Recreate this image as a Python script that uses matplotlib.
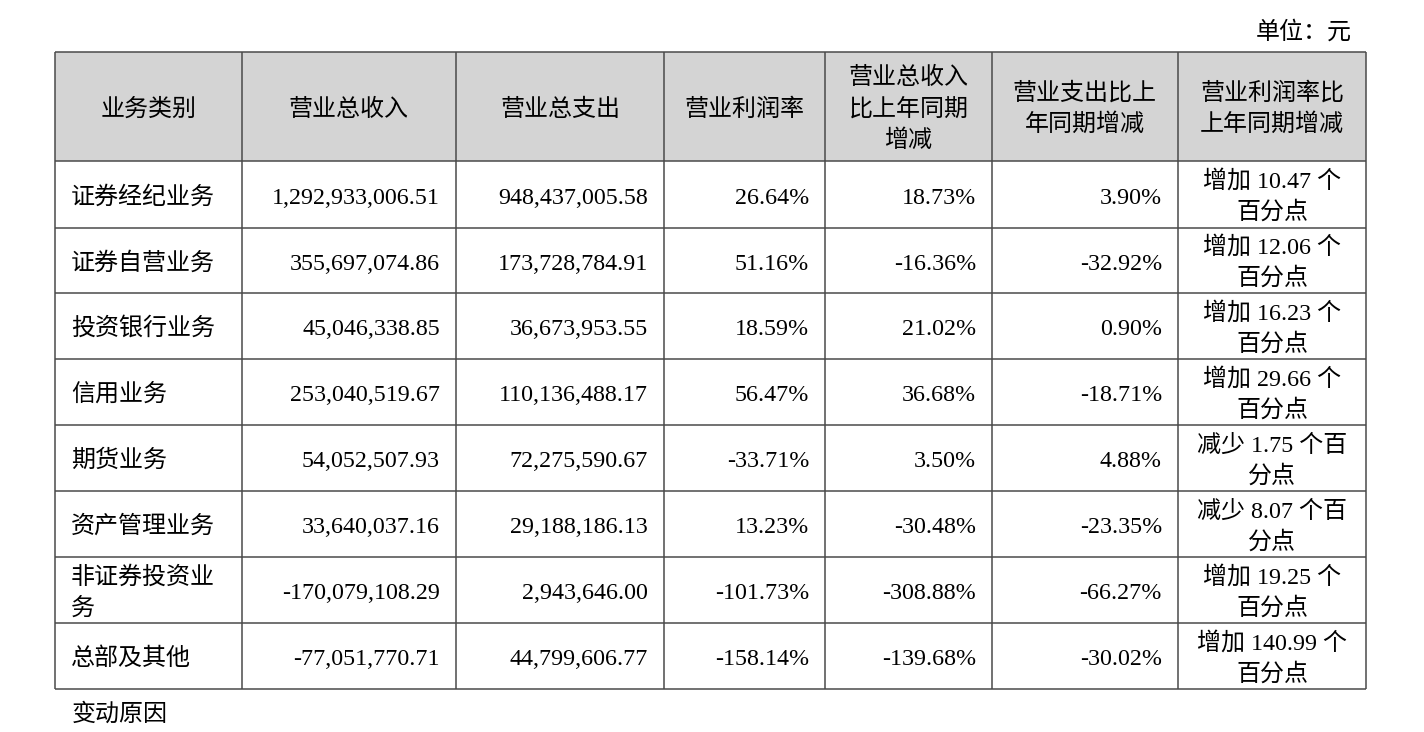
import matplotlib
matplotlib.use("Agg")
import matplotlib.pyplot as plt

plt.rcParams['font.family'] = ['Liberation Serif', 'Noto Sans CJK SC', 'DejaVu Sans']

# ---------- data ----------
headers = ['业务类别', '营业总收入', '营业总支出', '营业利润率',
           '营业总收入\n比上年同期\n增减', '营业支出比上\n年同期增减', '营业利润率比\n上年同期增减']
categories = ['证券经纪业务', '证券自营业务', '投资银行业务', '信用业务',
              '期货业务', '资产管理业务', '非证券投资业务', '总部及其他']
revenue = [1292933006.51, 355697074.86, 45046338.85, 253040519.67,
           54052507.93, 33640037.16, -170079108.29, -77051770.71]
expense = [948437005.58, 173728784.91, 36673953.55, 110136488.17,
           72275590.67, 29188186.13, 2943646.00, 44799606.77]
margin = [26.64, 51.16, 18.59, 56.47, -33.71, 13.23, -101.73, -158.14]
revenue_yoy = [18.73, -16.36, 21.02, 36.68, 3.50, -30.48, -308.88, -139.68]
expense_yoy = [3.90, -32.92, 0.90, -18.71, 4.88, -23.35, -66.27, -30.02]
margin_change = [10.47, 12.06, 16.23, 29.66, -1.75, -8.07, 19.25, 140.99]
unit_label = '单位：元'
footer_label = '变动原因'

# ---------- layout (pixels) ----------
W, H = 1424, 732
col_edges = [55, 242, 456, 664, 825, 992, 1178, 1366]
row_edges = [52, 161, 228, 293, 359, 425, 491, 557, 623, 689]
FS = 17.3          # ~24 px em at dpi 100
EM = 24.0
LINE_H = 31
BASE_OFF = 9       # baseline below visual line centre
PAD = 16


def em_width(ch):
    if ch in '0123456789':
        return 0.5
    if ch in '., -%':
        return 0.25 if ch != '%' else 0.83
    return 1.0


def wrap(s, max_em=6.5):
    lines, cur, w = [], '', 0.0
    for ch in s:
        cw = em_width(ch)
        if w + cw > max_em and cur:
            lines.append(cur)
            cur, w = '', 0.0
        cur += ch
        w += cw
    lines.append(cur)
    return '\n'.join(lines)


def change_text(v):
    word = '增加' if v >= 0 else '减少'
    return f'{word} {abs(v):.2f} 个百分点'


fig = plt.figure(figsize=(W / 100, H / 100), dpi=100)
ax = fig.add_axes([0, 0, 1, 1])
ax.set_xlim(0, W)
ax.set_ylim(H, 0)
ax.axis('off')


def cell_text(x0, x1, y0, y1, s, align):
    lines = s.split('\n')
    yc = (y0 + y1) / 2
    n = len(lines)
    for i, ln in enumerate(lines):
        y = yc + (i - (n - 1) / 2) * LINE_H + BASE_OFF
        if align == 'left':
            x, ha = x0 + PAD, 'left'
        elif align == 'right':
            x, ha = x1 - PAD, 'right'
        else:
            x, ha = (x0 + x1) / 2, 'center'
        ax.text(x, y, ln, ha=ha, va='baseline', fontsize=FS, color='black')


# header background
ax.fill_between([col_edges[0], col_edges[-1]], row_edges[0], row_edges[1],
                color='#d4d4d4', lw=0, zorder=0)

# grid lines
ax.hlines(row_edges, col_edges[0], col_edges[-1], color='#4a4a4a', lw=1.1)
ax.vlines(col_edges, row_edges[0], row_edges[-1], color='#4a4a4a', lw=1.1)

# header text
for j, h in enumerate(headers):
    cell_text(col_edges[j], col_edges[j + 1], row_edges[0], row_edges[1], h, 'center')

# body
for i in range(len(categories)):
    y0, y1 = row_edges[i + 1], row_edges[i + 2]
    row = [
        (wrap(categories[i]), 'left'),
        (f'{revenue[i]:,.2f}', 'right'),
        (f'{expense[i]:,.2f}', 'right'),
        (f'{margin[i]:.2f}%', 'right'),
        (f'{revenue_yoy[i]:.2f}%', 'right'),
        (f'{expense_yoy[i]:.2f}%', 'right'),
        (wrap(change_text(margin_change[i])), 'center'),
    ]
    for j, (s, al) in enumerate(row):
        cell_text(col_edges[j], col_edges[j + 1], y0, y1, s, al)

ax.text(1352, 30 + BASE_OFF, unit_label, ha='right', va='baseline', fontsize=FS, color='black')
ax.text(72, 712 + BASE_OFF, footer_label, ha='left', va='baseline', fontsize=FS, color='black')

fig.savefig('out.png', dpi=100)
